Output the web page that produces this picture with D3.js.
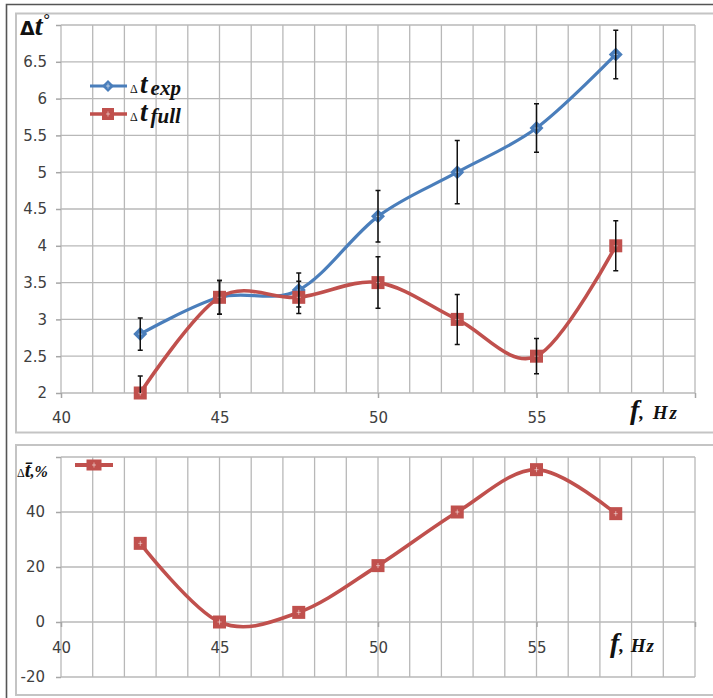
<!DOCTYPE html>
<html>
<head>
<meta charset="utf-8">
<script src="https://cdn.jsdelivr.net/npm/d3@7"></script>
<style>
  body { margin: 0; background: #fff; }
  .tick text { font-family: "DejaVu Sans", sans-serif; font-size: 15px; fill: #404040; }
  .tick line { stroke: #a6a6a6; stroke-width: 1.5; }
  .lbl { font-family: "Liberation Serif", serif; font-weight: bold; font-style: italic; fill: #111; }
</style>
</head>
<body>
<div id="container"></div>
<script>
/* DATA */
const freqs = [42.5, 45, 47.5, 50, 52.5, 55, 57.5]   // f, Hz
const tExp = [2.8, 3.3, 3.4, 4.4, 5.0, 5.6, 6.6]
const tFull = [2.0, 3.3, 3.3, 3.5, 3.0, 2.5, 4.0]
const errExp = [0.22, 0.23, 0.23, 0.35, 0.43, 0.33, 0.33]
const errFull = [0.23, 0.23, 0.22, 0.35, 0.34, 0.24, 0.34]
const dtPercent = [28.6, 0, 3.5, 20.5, 40, 55.4, 39.4]
const xTicks = [40, 45, 50, 55, 60]
const yTicksTop = [2, 2.5, 3, 3.5, 4, 4.5, 5, 5.5, 6, 6.5, 7]
const yTicksBottom = [-20, 0, 20, 40, 60]

/* CONSTANTS */
const width = 713, height = 698
const blue = "#4a7ebb", red = "#c0504d", grid = "#b8b8b8"

const svg = d3.select("#container")
  .append("svg")
  .attr("width", width)
  .attr("height", height)

// frames
svg.append("rect").attr("width", width).attr("height", height).attr("fill", "#fff")
svg.append("path").attr("d", "M6.5,698V4.5H713").attr("fill", "none").attr("stroke", "#555").attr("stroke-width", 1.6)
svg.append("rect").attr("x", 16).attr("y", 13.5).attr("width", 720).attr("height", 419)
  .attr("fill", "none").attr("stroke", "#c4c4c4").attr("stroke-width", 2)
svg.append("rect").attr("x", 16).attr("y", 445).attr("width", 720).attr("height", 250)
  .attr("fill", "none").attr("stroke", "#c4c4c4").attr("stroke-width", 2)

/* SCALES */
const x = d3.scaleLinear().domain([40, 60]).range([61, 695])
const yTop = d3.scaleLinear().domain([2, 7]).range([393, 25])
const yBot = d3.scaleLinear().domain([-20, 60]).range([677, 457])

const smooth = d3.curveCardinal.tension(0)

// grid for one panel
function drawGrid(g, y, yTicks) {
  const [y0, y1] = y.range()
  g.append("g").selectAll("line")
    .data(d3.range(40, 61, 1))
    .join("line")
    .attr("x1", d => x(d)).attr("x2", d => x(d))
    .attr("y1", y0).attr("y2", y1)
    .attr("stroke", grid).attr("stroke-width", 1.3)
  g.append("g").selectAll("line")
    .data(yTicks)
    .join("line")
    .attr("x1", x(40)).attr("x2", x(60))
    .attr("y1", d => y(d)).attr("y2", d => y(d))
    .attr("stroke", grid).attr("stroke-width", 1.3)
}

function diamond(g, cx, cy, r) {
  g.append("path")
    .attr("d", `M${cx},${cy - r}L${cx + r},${cy}L${cx},${cy + r}L${cx - r},${cy}Z`)
    .attr("fill", blue)
  g.append("path")
    .attr("d", `M${cx - 2},${cy}H${cx + 2}M${cx},${cy - 2.5}V${cy + 2.5}`)
    .attr("stroke", "#fff").attr("stroke-opacity", 0.55).attr("stroke-width", 1)
}

function square(g, cx, cy, s, w) {
  w = w || s
  g.append("rect")
    .attr("x", cx - w / 2).attr("y", cy - s / 2)
    .attr("width", w).attr("height", s)
    .attr("fill", red)
  g.append("path")
    .attr("d", `M${cx - 2},${cy}H${cx + 2}M${cx},${cy - 2.5}V${cy + 2.5}`)
    .attr("stroke", "#fff").attr("stroke-opacity", 0.5).attr("stroke-width", 1)
}

/* TOP PANEL */
const topG = svg.append("g")
drawGrid(topG, yTop, yTicksTop)

topG.append("g")
  .attr("transform", `translate(${x(40)},0)`)
  .call(d3.axisLeft(yTop).tickValues(yTicksTop).tickSize(5).tickPadding(9)
    .tickFormat(d => d === 7 ? "" : d))
  .call(g => g.select(".domain").remove())

topG.append("g")
  .attr("transform", `translate(0,${yTop(2)})`)
  .call(d3.axisBottom(x).tickValues(xTicks).tickSize(5).tickPadding(14)
    .tickFormat(d => d === 60 ? "" : d))
  .call(g => g.select(".domain").remove())

const lineTop = (vals) => d3.line()
  .x((d, i) => x(freqs[i]))
  .y(d => yTop(d))
  .curve(smooth)(vals)

topG.append("path").attr("d", lineTop(tExp))
  .attr("fill", "none").attr("stroke", blue).attr("stroke-width", 3.2)
freqs.forEach((f, i) => diamond(topG, x(f), yTop(tExp[i]), 7))

topG.append("path").attr("d", lineTop(tFull))
  .attr("fill", "none").attr("stroke", red).attr("stroke-width", 3.6)
freqs.forEach((f, i) => square(topG, x(f), yTop(tFull[i]), 13))

// error bars
svg.append("clipPath").attr("id", "clipTop")
  .append("rect").attr("x", x(40)).attr("y", yTop(7) - 10)
  .attr("width", x(60) - x(40)).attr("height", yTop(2) - yTop(7) + 10)

const errG = topG.append("g").attr("clip-path", "url(#clipTop)")
  .attr("stroke", "#111").attr("stroke-width", 1.5)
const bars = [[tExp, errExp], [tFull, errFull]]
bars.forEach(([vals, errs]) => {
  freqs.forEach((f, i) => {
    const cx = x(f), lo = yTop(vals[i] - errs[i]), hi = yTop(vals[i] + errs[i])
    errG.append("path")
      .attr("d", `M${cx},${lo}V${hi}M${cx - 2.5},${lo}H${cx + 2.5}M${cx - 2.5},${hi}H${cx + 2.5}`)
  })
})

// legend
topG.append("line").attr("x1", 90).attr("x2", 127).attr("y1", 86).attr("y2", 86)
  .attr("stroke", blue).attr("stroke-width", 3.2)
diamond(topG, 108, 86, 6)
topG.append("line").attr("x1", 90).attr("x2", 127).attr("y1", 114).attr("y2", 114)
  .attr("stroke", red).attr("stroke-width", 3.6)
square(topG, 108, 114, 12)

const legExp = topG.append("text").attr("x", 130).attr("y", 93).attr("class", "lbl")
legExp.append("tspan").attr("font-size", 12).attr("font-style", "normal").attr("font-weight", "normal").text("Δ ")
legExp.append("tspan").attr("font-size", 27).text("t")
legExp.append("tspan").attr("font-size", 21).attr("dy", 2).attr("dx", 3).text("exp")

const legFull = topG.append("text").attr("x", 130).attr("y", 121).attr("class", "lbl")
legFull.append("tspan").attr("font-size", 12).attr("font-style", "normal").attr("font-weight", "normal").text("Δ ")
legFull.append("tspan").attr("font-size", 27).text("t")
legFull.append("tspan").attr("font-size", 21).attr("dy", 2).attr("dx", 3).text("full")

// axis titles
const tTitle = topG.append("text").attr("x", 20).attr("y", 35).attr("class", "lbl")
tTitle.append("tspan").attr("font-family", "DejaVu Sans, sans-serif").attr("font-style", "normal")
  .attr("font-size", 19).text("Δ")
tTitle.append("tspan").attr("font-size", 28).text("t")
tTitle.append("tspan").attr("font-size", 16).attr("font-style", "normal").attr("dy", -10).attr("dx", 1).text("°")

const fTop = topG.append("text").attr("x", 630).attr("y", 419).attr("class", "lbl")
fTop.append("tspan").attr("font-size", 28).text("f")
fTop.append("tspan").attr("font-size", 19).attr("letter-spacing", 2).text(", Hz")

/* BOTTOM PANEL */
const botG = svg.append("g")
drawGrid(botG, yBot, yTicksBottom)

botG.append("g")
  .attr("transform", `translate(${x(40)},0)`)
  .call(d3.axisLeft(yBot).tickValues(yTicksBottom).tickSize(5).tickPadding(11)
    .tickFormat(d => d === 60 ? "" : d))
  .call(g => g.select(".domain").remove())

botG.append("g")
  .attr("transform", `translate(0,${yBot(0)})`)
  .call(d3.axisBottom(x).tickValues(xTicks).tickSize(5).tickPadding(15)
    .tickFormat(d => d === 60 ? "" : d))
  .call(g => g.select(".domain").remove())

botG.append("path")
  .attr("d", d3.line().x((d, i) => x(freqs[i])).y(d => yBot(d)).curve(smooth)(dtPercent))
  .attr("fill", "none").attr("stroke", red).attr("stroke-width", 3.6)
freqs.forEach((f, i) => square(botG, x(f), yBot(dtPercent[i]), 13))

// legend
botG.append("line").attr("x1", 75).attr("x2", 113).attr("y1", 465).attr("y2", 465)
  .attr("stroke", red).attr("stroke-width", 4)
square(botG, 94, 465, 11, 15)

const pTitle = botG.append("text").attr("x", 17).attr("y", 477).attr("class", "lbl")
pTitle.append("tspan").attr("font-size", 12).attr("font-style", "normal").attr("font-weight", "normal").text("Δ")
pTitle.append("tspan").attr("font-size", 21).text("t\u0304")
pTitle.append("tspan").attr("font-size", 16).text(",%")

const fBot = botG.append("text").attr("x", 610).attr("y", 652).attr("class", "lbl")
fBot.append("tspan").attr("font-size", 28).text("f")
fBot.append("tspan").attr("font-size", 19).attr("letter-spacing", 1).text(", Hz")
</script>
</body>
</html>
